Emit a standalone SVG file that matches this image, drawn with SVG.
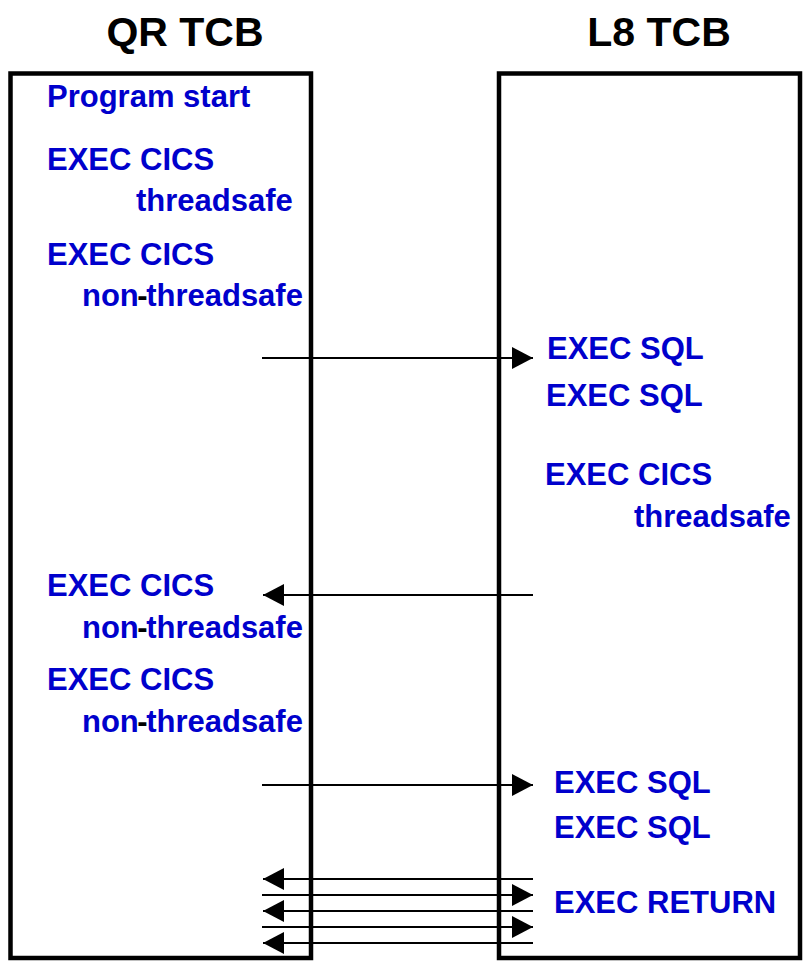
<svg xmlns="http://www.w3.org/2000/svg" width="803" height="964" viewBox="0 0 803 964">
<style>
.title{font-family:"Liberation Sans",Arial,sans-serif;font-weight:bold;font-size:41px;fill:#000;text-anchor:middle}
.lbl{font-family:"Liberation Sans",Arial,sans-serif;font-weight:bold;font-size:31px;fill:#0000CC}
.hy{fill:#000}
.box{fill:#fff;stroke:#000;stroke-width:4.5}
.conn{stroke:#000;stroke-width:2.2;fill:none;marker-end:url(#ah)}
</style>
<defs>
<marker id="ah" viewBox="0 0 21 22" refX="21" refY="11" markerWidth="21" markerHeight="22" markerUnits="userSpaceOnUse" orient="auto">
<path d="M0,0 L21,11 L0,22 Z" fill="#000"/>
</marker>
</defs>
<rect width="803" height="964" fill="#fff"/>
<g id="qr-tcb">
<text class="title" x="185" y="46">QR TCB</text>
<rect class="box" x="10.5" y="73.5" width="300.5" height="884.5"/>
<text class="lbl" x="47" y="107">Program start</text>
<text class="lbl" x="47" y="170">EXEC CICS</text>
<text class="lbl" x="136" y="211">threadsafe</text>
<text class="lbl" x="47" y="265">EXEC CICS</text>
<text class="lbl" x="82" y="306">non<tspan class="hy" dx="-1.5">-</tspan><tspan dx="-1.5">threadsafe</tspan></text>
<text class="lbl" x="47" y="596">EXEC CICS</text>
<text class="lbl" x="82" y="638">non<tspan class="hy" dx="-1.5">-</tspan><tspan dx="-1.5">threadsafe</tspan></text>
<text class="lbl" x="47" y="690">EXEC CICS</text>
<text class="lbl" x="82" y="732">non<tspan class="hy" dx="-1.5">-</tspan><tspan dx="-1.5">threadsafe</tspan></text>
</g>
<g id="l8-tcb">
<text class="title" x="659" y="46">L8 TCB</text>
<rect class="box" x="499" y="73.5" width="301" height="884.5"/>
<text class="lbl" x="547" y="359">EXEC SQL</text>
<text class="lbl" x="546" y="406">EXEC SQL</text>
<text class="lbl" x="545" y="485">EXEC CICS</text>
<text class="lbl" x="634" y="527">threadsafe</text>
<text class="lbl" x="554" y="793">EXEC SQL</text>
<text class="lbl" x="554" y="838">EXEC SQL</text>
<text class="lbl" x="554" y="913">EXEC RETURN</text>
</g>
<g id="connectors">
<line class="conn" x1="262" y1="358" x2="533" y2="358"/>
<line class="conn" x1="533" y1="595" x2="263" y2="595"/>
<line class="conn" x1="262" y1="785" x2="533" y2="785"/>
<line class="conn" x1="533" y1="879" x2="263" y2="879"/>
<line class="conn" x1="262" y1="895" x2="533" y2="895"/>
<line class="conn" x1="533" y1="911" x2="263" y2="911"/>
<line class="conn" x1="262" y1="927" x2="533" y2="927"/>
<line class="conn" x1="533" y1="943" x2="263" y2="943"/>
</g>
</svg>
